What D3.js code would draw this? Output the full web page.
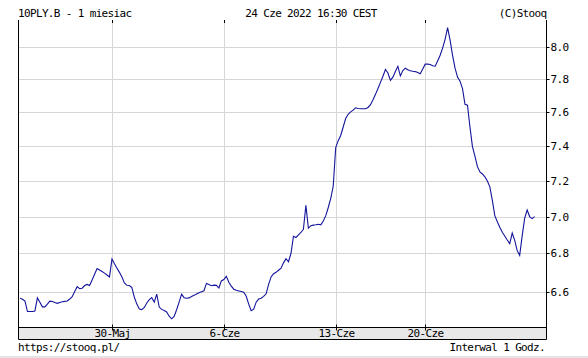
<!DOCTYPE html>
<html><head><meta charset="utf-8">
<script src="https://cdn.jsdelivr.net/npm/d3@7"></script>
<style>
body{margin:0;background:#fff}
svg{display:block}
text{font-family:"DejaVu Sans Mono",monospace;font-size:11px;letter-spacing:-0.65px;fill:#000}
</style>
</head><body>
<svg id="c" width="588" height="358"></svg>
<script>
const title = "10PLY.B - 1 miesiac";
const stamp = "24 Cze 2022 16:30 CEST";
const credit = "(C)Stooq";
const siteUrl = "https://stooq.pl/";
const intervalText = "Interwal 1 Godz.";

// hourly yield readings (index = trading hour)
const values = [
6.565,6.56,6.55,6.497,6.497,6.497,6.50,6.567,6.545,6.521,
6.521,6.535,6.550,6.548,6.543,6.539,6.543,6.547,6.549,6.551,
6.561,6.573,6.60,6.625,6.615,6.617,6.631,6.637,6.631,6.66,
6.69,6.72,6.712,6.704,6.696,6.686,6.676,6.770,6.745,6.722,
6.70,6.675,6.645,6.632,6.631,6.62,6.57,6.535,6.51,6.507,
6.518,6.541,6.558,6.568,6.545,6.586,6.52,6.508,6.502,6.495,
6.473,6.460,6.472,6.506,6.545,6.586,6.568,6.565,6.567,6.574,
6.580,6.587,6.593,6.599,6.604,6.642,6.636,6.630,6.633,6.632,
6.618,6.655,6.662,6.679,6.648,6.628,6.612,6.606,6.603,6.60,
6.596,6.575,6.535,6.501,6.509,6.545,6.561,6.565,6.575,6.588,
6.637,6.676,6.693,6.700,6.711,6.722,6.75,6.772,6.756,6.80,
6.892,6.886,6.90,6.913,6.93,7.062,6.937,6.95,6.953,6.955,
6.958,6.955,6.976,7.005,7.05,7.10,7.17,7.39,7.43,7.46,
7.51,7.56,7.585,7.60,7.61,7.624,7.62,7.618,7.618,7.618,
7.626,7.643,7.672,7.705,7.741,7.778,7.815,7.857,7.835,7.79,
7.81,7.845,7.877,7.817,7.85,7.865,7.855,7.849,7.846,7.844,
7.838,7.83,7.86,7.89,7.89,7.888,7.88,7.877,7.91,7.945,
7.99,8.045,8.12,8.04,7.945,7.865,7.81,7.785,7.74,7.645,
7.64,7.51,7.395,7.34,7.28,7.25,7.238,7.222,7.198,7.165,
7.09,7.005,6.972,6.942,6.914,6.894,6.872,6.853,6.91,6.87,
6.815,6.79,6.895,6.99,7.036,7.0,6.989,7.0
];

const xTickIndex = [37, 82, 127, 163];
const xTickLabels = ["30-Maj", "6-Cze", "13-Cze", "20-Cze"];
const yTicks = [6.6, 6.8, 7.0, 7.2, 7.4, 7.6, 7.8, 8.0];

const L = 18.5, R = 546.5, T = 20, B = 327.5, BB = 339.5;

const svg = d3.select("#c");
svg.append("rect").attr("width", 588).attr("height", 358).attr("fill", "#fff");

const x = d3.scaleLinear().domain([0, values.length - 1]).range([20, 534.6]);
const y = d3.scaleLog().domain([6.6, 8.0]).range([291.5, 46.5]);

const crisp = v => Math.round(v) + 0.5;

// gridlines
const g = svg.append("g").attr("stroke", "#d6d6d6").attr("stroke-width", 1);
g.selectAll("line.h").data(yTicks).join("line").attr("class", "h")
  .attr("x1", L).attr("x2", R)
  .attr("y1", d => crisp(y(d))).attr("y2", d => crisp(y(d)));
g.selectAll("line.v").data(xTickIndex).join("line").attr("class", "v")
  .attr("x1", d => crisp(x(d))).attr("x2", d => crisp(x(d)))
  .attr("y1", T).attr("y2", B);

// band under plot
svg.append("rect").attr("x", L).attr("y", B).attr("width", R - L).attr("height", BB - B)
  .attr("fill", "#e8e8e8");

// frame
const f = svg.append("g").attr("stroke", "#000").attr("stroke-width", 1).attr("fill", "none");
f.append("line").attr("x1", L).attr("x2", L).attr("y1", T).attr("y2", BB);
f.append("line").attr("x1", R).attr("x2", R).attr("y1", T).attr("y2", BB);
f.append("line").attr("x1", L).attr("x2", R).attr("y1", B).attr("y2", B);
f.append("line").attr("x1", L).attr("x2", R).attr("y1", BB).attr("y2", BB);
// top and bottom tick marks
f.selectAll("line.tt").data(xTickIndex).join("line").attr("class", "tt")
  .attr("x1", d => crisp(x(d))).attr("x2", d => crisp(x(d))).attr("y1", T).attr("y2", T + 3);
f.selectAll("line.tb").data(xTickIndex).join("line").attr("class", "tb")
  .attr("x1", d => crisp(x(d))).attr("x2", d => crisp(x(d))).attr("y1", B - 3).attr("y2", B + 3);

// right axis
const ya = d3.axisRight(y).tickValues(yTicks).tickFormat(d3.format(".1f")).tickSize(3).tickPadding(1);
const yg = svg.append("g").attr("transform", `translate(${R},0)`).call(ya);
yg.select(".domain").remove();
yg.selectAll(".tick line").attr("stroke", "#000");
yg.selectAll("text").attr("font-family", null).attr("font-size", null).attr("dy", "0.36em");
yg.selectAll(".tick").attr("transform", d => `translate(0,${crisp(y(d))})`);

// bottom labels
const xa = d3.axisBottom(x).tickValues(xTickIndex).tickFormat((d, i) => xTickLabels[i]).tickSize(0).tickPadding(0);
const xg = svg.append("g").attr("transform", `translate(0,${B})`).call(xa);
xg.select(".domain").remove();
xg.selectAll("text").attr("font-family", null).attr("font-size", null).attr("y", 0).attr("dy", 9.5);
xg.selectAll(".tick").attr("transform", d => `translate(${crisp(x(d))},0)`);

// data line
svg.append("path").datum(values)
  .attr("fill", "none").attr("stroke", "#14149c").attr("stroke-width", 1.1)
  .attr("d", d3.line().x((d, i) => x(i)).y(d => y(d)));

// header / footer
svg.append("text").attr("x", 18).attr("y", 16.5).text(title);
svg.append("text").attr("x", 311).attr("y", 16.5).attr("text-anchor", "middle").text(stamp);
svg.append("text").attr("x", 546.5).attr("y", 16.5).attr("text-anchor", "end").text(credit);
svg.append("text").attr("x", 18).attr("y", 351).text(siteUrl);
svg.append("text").attr("x", 545).attr("y", 351).attr("text-anchor", "end").text(intervalText);

// bottom strip
svg.append("rect").attr("x", 0).attr("y", 356).attr("width", 588).attr("height", 2).attr("fill", "#e4e4e4");
</script>
</body></html>
